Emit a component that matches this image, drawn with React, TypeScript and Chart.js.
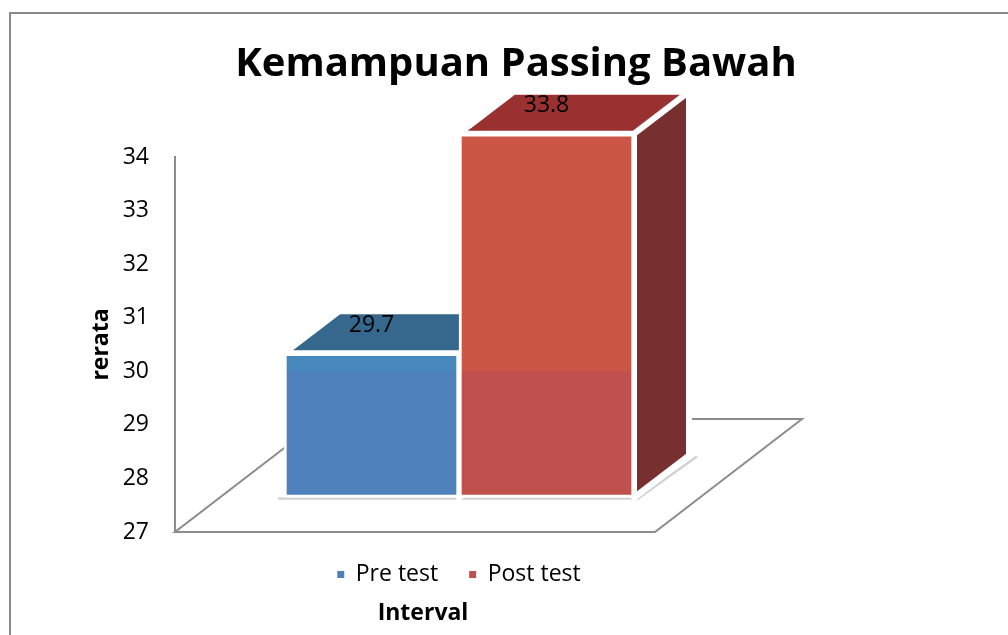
import React, { useEffect, useRef } from 'react';
import { Chart, registerables } from 'chart.js';

Chart.register(...registerables);

// ---- data ----
const chartTitle = 'Kemampuan Passing Bawah';
const categories = [''];
const seriesNames = ['Pre test', 'Post test'];
const preTest = [29.7];
const postTest = [33.8];
const yMin = 27;
const yMax = 34;
const yStep = 1;
const yTitle = 'rerata';
const xTitle = 'Interval';
const shadeSplitValue = 30;

// ---- styles ----
const FONT = '"Open Sans", "DejaVu Sans", sans-serif';
const frontColors = [
  { hi: '#4787BB', lo: '#4F81BD' },
  { hi: '#CC5646', lo: '#C0504D' },
];
const topColors = ['#36678D', '#9A3131'];
const sideColors = ['#2F5580', '#772F2F'];
const DEPTH = { dx: 55, dy: -42 };
const FLOOR = { width: 480, dx: 147, dy: -113 };
const BAR_SHIFT = -34;
const CANVAS_W = 1010;
const CANVAS_H = 640;

function frontFill(i: number) {
  return (c: any) => {
    const chart = c.chart;
    const area = chart.chartArea;
    const col = frontColors[i];
    if (!area) return col.lo;
    const split = chart.scales.y.getPixelForValue(shadeSplitValue) - BAR_SHIFT;
    let t = (split - area.top) / (area.bottom - area.top);
    t = Math.max(0, Math.min(1, t));
    const g = chart.ctx.createLinearGradient(0, area.top, 0, area.bottom);
    g.addColorStop(0, col.hi);
    g.addColorStop(t, col.hi);
    g.addColorStop(t, col.lo);
    g.addColorStop(1, col.lo);
    return g;
  };
}

function poly(ctx: CanvasRenderingContext2D, pts: number[][], fill: string) {
  ctx.beginPath();
  ctx.moveTo(pts[0][0], pts[0][1]);
  for (let k = 1; k < pts.length; k++) ctx.lineTo(pts[k][0], pts[k][1]);
  ctx.closePath();
  ctx.fillStyle = fill;
  ctx.fill();
  ctx.lineJoin = 'round';
  ctx.strokeStyle = '#ffffff';
  ctx.lineWidth = 6;
  ctx.stroke();
}

const bar3d = {
  id: 'bar3d',
  beforeDatasetsDraw(chart: any) {
    const { ctx, chartArea: a } = chart;
    // floor
    ctx.save();
    ctx.strokeStyle = '#8c8c8c';
    ctx.lineWidth = 2;
    const x0 = a.left;
    const y0 = a.bottom;
    const x1 = a.left + FLOOR.width;
    ctx.beginPath();
    ctx.moveTo(x0, y0);
    ctx.lineTo(x1, y0);
    ctx.lineTo(x1 + FLOOR.dx, y0 + FLOOR.dy);
    ctx.lineTo(x0 + FLOOR.dx, y0 + FLOOR.dy);
    ctx.closePath();
    ctx.stroke();
    ctx.restore();

    ctx.save();
    ctx.translate(0, BAR_SHIFT);
    const metas = chart.getSortedVisibleDatasetMetas();
    const rects: any[] = [];
    metas.forEach((meta: any) => {
      meta.data.forEach((el: any) => {
        const p = el.getProps(['x', 'y', 'base', 'width'], true);
        rects.push({
          i: meta.index,
          L: p.x - p.width / 2,
          R: p.x + p.width / 2,
          T: Math.min(p.y, p.base),
          B: Math.max(p.y, p.base),
        });
      });
    });
    if (rects.length) {
      const first = rects.reduce((m, r) => (r.L < m.L ? r : m), rects[0]);
      const last = rects.reduce((m, r) => (r.R > m.R ? r : m), rects[0]);
      ctx.save();
      ctx.strokeStyle = '#d2d2d2';
      ctx.lineWidth = 2.5;
      ctx.beginPath();
      ctx.moveTo(first.L - 6, last.B + 1);
      ctx.lineTo(last.R + 4, last.B + 1);
      ctx.lineTo(last.R + DEPTH.dx + 8, last.B + DEPTH.dy + 1);
      ctx.stroke();
      ctx.restore();
    }
    rects.forEach((r) => {
      const { dx, dy } = DEPTH;
      poly(ctx, [[r.R, r.T], [r.R + dx, r.T + dy], [r.R + dx, r.B + dy], [r.R, r.B]], sideColors[r.i]);
      poly(ctx, [[r.L, r.T], [r.R, r.T], [r.R + dx, r.T + dy], [r.L + dx, r.T + dy]], topColors[r.i]);
    });
  },
  afterDatasetsDraw(chart: any) {
    const { ctx } = chart;
    // value labels (still in shifted space)
    ctx.font = '23px ' + FONT;
    ctx.fillStyle = '#000000';
    ctx.textAlign = 'center';
    ctx.textBaseline = 'middle';
    chart.getSortedVisibleDatasetMetas().forEach((meta: any) => {
      const ds = chart.data.datasets[meta.index];
      meta.data.forEach((el: any, j: number) => {
        const p = el.getProps(['x', 'y', 'base'], true);
        const T = Math.min(p.y, p.base);
        ctx.fillText(String(ds.data[j]), p.x, T - 28);
      });
    });
    ctx.restore();
  },
  afterDraw(chart: any) {
    const { ctx, chartArea: a } = chart;
    ctx.save();
    ctx.font = 'bold 23px ' + FONT;
    ctx.fillStyle = '#000000';
    ctx.textAlign = 'center';
    ctx.textBaseline = 'alphabetic';
    ctx.fillText(xTitle, a.left + 248, a.bottom + 88);
    ctx.restore();
  },
};

export default function App() {
  const ref = useRef<HTMLCanvasElement>(null);

  useEffect(() => {
    if (!ref.current) return;
    const common = {
      borderColor: '#ffffff',
      borderWidth: 3,
      borderSkipped: false,
      barThickness: 175,
      base: yMin,
      yAxisID: 'y',
    };
    const chart = new Chart(ref.current, {
      type: 'bar',
      data: {
        labels: categories,
        datasets: [
          { ...common, label: seriesNames[0], data: preTest, backgroundColor: frontFill(0) as any },
          { ...common, label: seriesNames[1], data: postTest, backgroundColor: frontFill(1) as any },
        ],
      },
      options: {
        responsive: false,
        animation: false,
        devicePixelRatio: 1,
        events: [],
        layout: { padding: { left: 0, right: 0, top: 0, bottom: 58 } },
        scales: {
          x: {
            type: 'category',
            display: false,
            offset: true,
          },
          y: {
            type: 'linear',
            position: 'left',
            min: yMin,
            max: yMax,
            ticks: {
              stepSize: yStep,
              padding: 26,
              color: '#000000',
              font: { family: FONT, size: 23 },
            },
            grid: { display: true, drawOnChartArea: false, drawTicks: false, tickLength: 0 },
            border: { display: true, color: '#8c8c8c', width: 2 },
            title: {
              display: true,
              text: yTitle,
              color: '#000000',
              font: { family: FONT, size: 23, weight: 'bold' },
              padding: { top: 77, bottom: 0 },
            },
            afterFit: (s: any) => {
              s.width = 164;
            },
          },
          yRight: {
            type: 'linear',
            position: 'right',
            display: true,
            ticks: { display: false },
            grid: { display: false },
            border: { display: false },
            afterFit: (s: any) => {
              s.width = 278;
            },
          },
        },
        plugins: {
          title: {
            display: true,
            text: chartTitle,
            color: '#000000',
            font: { family: FONT, size: 40, weight: 'bold' },
            padding: { top: 27, bottom: 68 },
          },
          legend: {
            display: true,
            position: 'bottom',
            fullSize: false,
            labels: {
              color: '#000000',
              font: { family: FONT, size: 23 },
              boxWidth: 7,
              boxHeight: 7,
              padding: 31,
              generateLabels: (c: any) =>
                Chart.defaults.plugins.legend.labels.generateLabels(c).map((l: any, i: number) => ({
                  ...l,
                  lineWidth: 0,
                  strokeStyle: 'rgba(0,0,0,0)',
                  fillStyle: frontColors[i].lo,
                })),
            },
          },
          tooltip: { enabled: false },
        },
      } as any,
      plugins: [bar3d],
    });
    return () => chart.destroy();
  }, []);

  return (
    <div
      style={{
        position: 'fixed',
        left: 0,
        top: 0,
        width: 1008,
        height: 635,
        overflow: 'hidden',
        background: '#ffffff',
      }}
    >
      <div
        style={{
          position: 'absolute',
          left: 9,
          top: 12,
          width: 1100,
          height: 700,
          borderLeft: '2px solid #8a8a8a',
          borderTop: '2px solid #8a8a8a',
        }}
      />
      <canvas
        ref={ref}
        width={CANVAS_W}
        height={CANVAS_H}
        style={{ position: 'absolute', left: 11, top: 14, width: CANVAS_W, height: CANVAS_H }}
      />
    </div>
  );
}
